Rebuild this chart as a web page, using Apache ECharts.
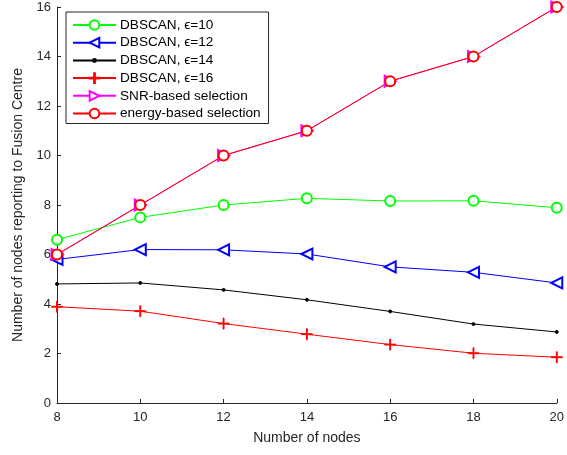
<!DOCTYPE html>
<html>
<head>
<meta charset="utf-8">
<script src="https://cdn.jsdelivr.net/npm/echarts@6/dist/echarts.min.js"></script>
<style>
  html, body { margin: 0; padding: 0; background: #fff; }
  #chart { width: 567px; height: 455px; }
</style>
</head>
<body>
<div id="chart"></div>
<script>
// Number of nodes in the network (x axis)
const nodes = [8, 10, 12, 14, 16, 18, 20];

// Nodes reporting to the fusion centre, per selection scheme
const dbscanEps10 = [6.6, 7.5, 8.0, 8.27, 8.16, 8.17, 7.89];
const dbscanEps12 = [5.8, 6.2, 6.19, 6.02, 5.5, 5.28, 4.85];
const dbscanEps14 = [4.81, 4.85, 4.57, 4.17, 3.7, 3.19, 2.87];
const dbscanEps16 = [3.89, 3.71, 3.21, 2.78, 2.36, 2.01, 1.85];
const snrBased    = [6, 8, 10, 11, 13, 14, 16];
const energyBased = [6, 8, 10, 11, 13, 14, 16];

const seriesNames = [
  'DBSCAN, \u03f5=10',
  'DBSCAN, \u03f5=12',
  'DBSCAN, \u03f5=14',
  'DBSCAN, \u03f5=16',
  'SNR-based selection',
  'energy-based selection'
];

const FONT = '"Liberation Sans", Arial, Helvetica, sans-serif';
// '+' marker
const plusPath = 'path://M4.6,0h0.8v4.6h4.6v0.8h-4.6v4.6h-0.8v-4.6h-4.6v-0.8h4.6z';
// small dot centred in a 10x10 box (corner points keep the box size)
const dotPath = 'path://M0,0L0,0M10,10L10,10M5,3.5L6.1,3.9L6.5,5L6.1,6.1L5,6.5L3.9,6.1L3.5,5L3.9,3.9Z';

function pairs(vals) {
  return nodes.map((n, i) => [n, vals[i]]);
}

function lineSeries(name, vals, color, symbol, size, extra) {
  return Object.assign({
    name: name,
    type: 'line',
    data: pairs(vals),
    symbol: symbol,
    symbolSize: size,
    showAllSymbol: true,
    lineStyle: { color: color, width: 1 },
    itemStyle: { color: color, borderColor: color, borderWidth: 1 },
    emphasis: { disabled: true },
    animation: false
  }, extra || {});
}

const chart = echarts.init(document.getElementById('chart'), null, { renderer: 'canvas' });

chart.setOption({
  backgroundColor: '#fff',
  animation: false,
  grid: { left: 57, right: 9, top: 7, bottom: 52 },
  legend: {
    orient: 'vertical',
    left: 66,
    top: 12,
    padding: [6, 8, 3, 6],
    itemWidth: 43,
    itemHeight: 12,
    itemGap: 3.7,
    backgroundColor: '#fff',
    borderColor: '#262626',
    borderWidth: 1,
    textStyle: { fontFamily: FONT, fontSize: 13.6, lineHeight: 14, color: '#000', padding: [0, 0, 0, -1] },
    data: seriesNames
  },
  xAxis: {
    type: 'value',
    min: 8,
    max: 20,
    interval: 2,
    name: 'Number of nodes',
    nameLocation: 'middle',
    nameGap: 28,
    nameTextStyle: { fontFamily: FONT, fontSize: 14, color: '#262626' },
    axisLine: { show: true, lineStyle: { color: '#262626', width: 1 } },
    axisTick: { show: true, inside: true, length: 4, lineStyle: { color: '#262626' } },
    axisLabel: { fontFamily: FONT, fontSize: 13, color: '#262626', margin: 8 },
    splitLine: { show: false }
  },
  yAxis: {
    type: 'value',
    min: 0,
    max: 16,
    interval: 2,
    name: 'Number of nodes reporting to Fusion Centre',
    nameLocation: 'middle',
    nameGap: 32,
    nameTextStyle: { fontFamily: FONT, fontSize: 14, color: '#262626' },
    axisLine: { show: true, lineStyle: { color: '#262626', width: 1 } },
    axisTick: { show: true, inside: true, length: 4, lineStyle: { color: '#262626' } },
    axisLabel: { fontFamily: FONT, fontSize: 13, color: '#262626', margin: 6 },
    splitLine: { show: false }
  },
  series: [
    lineSeries(seriesNames[0], dbscanEps10, '#00ff00', 'emptyCircle', 10),
    lineSeries(seriesNames[1], dbscanEps12, '#0000ff', 'emptyTriangle', 11, { symbolRotate: 90 }),
    lineSeries(seriesNames[2], dbscanEps14, '#000000', dotPath, 10),
    lineSeries(seriesNames[3], dbscanEps16, '#ff0000', plusPath, 11),
    lineSeries(seriesNames[4], snrBased, '#ff00ff', 'emptyTriangle', 11, { symbolRotate: -90 }),
    lineSeries(seriesNames[5], energyBased, '#ff0000', 'emptyCircle', 10)
  ]
});
</script>
</body>
</html>
